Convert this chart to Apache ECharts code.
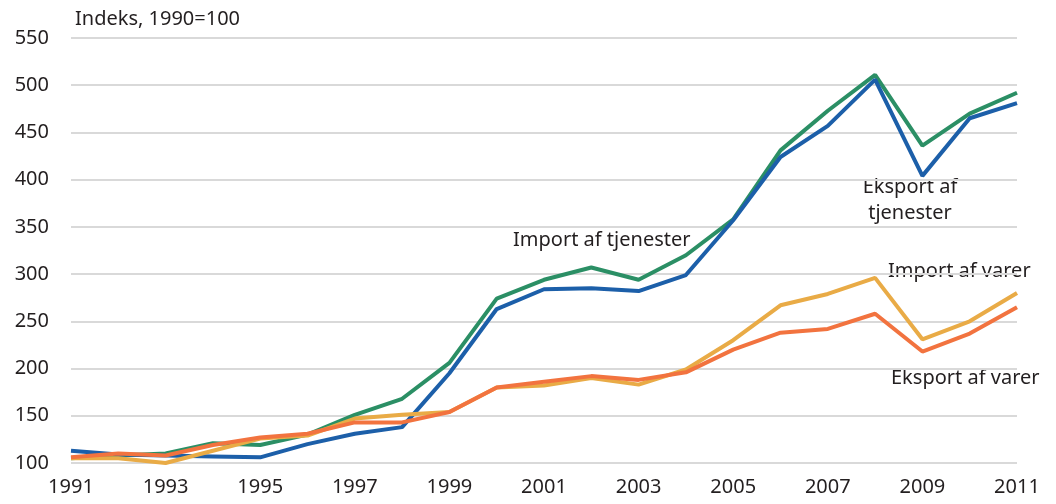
<!DOCTYPE html>
<html>
<head>
<meta charset="utf-8">
<script src="https://cdn.jsdelivr.net/npm/echarts@6/dist/echarts.min.js"></script>
<style>
  html, body { margin: 0; padding: 0; background: #fff; }
  #chart { width: 1056px; height: 504px; }
</style>
</head>
<body>
<div id="chart"></div>
<script>
// data
var years = ['1991','1992','1993','1994','1995','1996','1997','1998','1999','2000',
             '2001','2002','2003','2004','2005','2006','2007','2008','2009','2010','2011'];
var importTjenester = [105,108,110,121,119,130,151,168,206,274,294,307,294,320,358,431,473,511,436,470,492];
var eksportTjenester = [113,109,108,107,106,120,131,138,195,263,284,285,282,299,357,424,457,506,404,465,481];
var importVarer = [105,105,100,113,126,129,147,151,154,180,182,190,183,199,230,267,279,296,231,250,280];
var eksportVarer = [106,110,108,119,127,131,143,143,154,180,186,192,188,196,220,238,242,258,218,237,265];

var font = '"Noto Sans", sans-serif';
var textColor = '#231f20';
var fs = 20;

var myChart = echarts.init(document.getElementById('chart'));

function line(name, data, color, z) {
  return {
    name: name,
    type: 'line',
    data: data,
    showSymbol: false,
    symbol: 'none',
    z: z,
    lineStyle: { width: 4, color: color },
    itemStyle: { color: color }
  };
}

// text labels put on the chart
function label(text, x, y, align) {
  return {
    type: 'text', x: x, y: y,
    style: { text: text, font: fs + 'px ' + font, fill: textColor,
             align: align || 'left', verticalAlign: 'middle' }
  };
}

var option = {
  animation: false,
  backgroundColor: '#fff',
  grid: { left: 71, right: 39, top: 38, bottom: 41, containLabel: false },
  xAxis: {
    type: 'category',
    data: years,
    boundaryGap: false,
    axisLine: { show: false },
    axisTick: { show: false },
    splitLine: { show: false },
    axisLabel: {
      interval: 1,
      margin: 14,
      fontFamily: font,
      fontSize: fs,
      color: textColor
    }
  },
  yAxis: {
    type: 'value',
    min: 100,
    max: 550,
    interval: 50,
    axisLine: { show: false },
    axisTick: { show: false },
    axisLabel: {
      margin: 22,
      fontFamily: font,
      fontSize: fs,
      color: textColor
    },
    splitLine: { lineStyle: { color: '#d9d9d9', width: 2 } }
  },
  series: [
    line('Import af tjenester', importTjenester, '#2b8f65', 2),
    line('Eksport af tjenester', eksportTjenester, '#1c5fa9', 3),
    line('Import af varer', importVarer, '#e9ab46', 4),
    line('Eksport af varer', eksportVarer, '#f2733f', 5)
  ],
  graphic: [
    label('Indeks, 1990=100', 75, 19),
    label('Import af tjenester', 513, 240),
    label('Eksport af', 910, 187, 'center'),
    label('tjenester', 910, 213, 'center'),
    label('Import af varer', 888, 271),
    label('Eksport af varer', 891, 378)
  ]
};

myChart.setOption(option);
</script>
</body>
</html>
